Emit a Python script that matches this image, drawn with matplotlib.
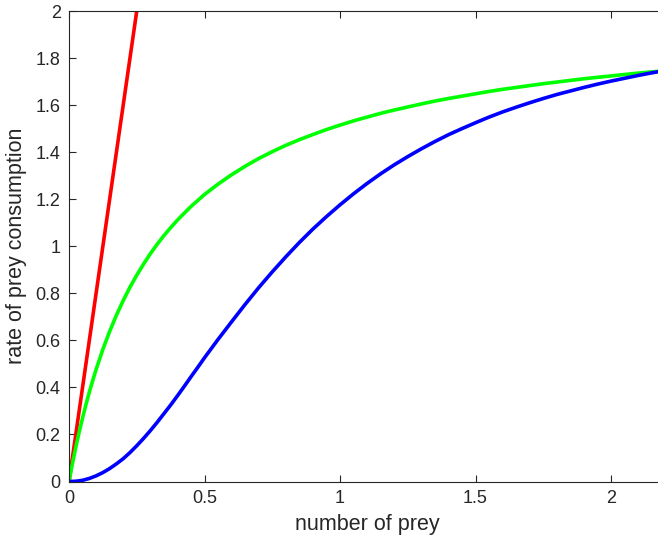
import matplotlib
matplotlib.use("Agg")
import matplotlib.pyplot as plt
from matplotlib.ticker import FuncFormatter

plt.rcParams['font.family'] = ['Liberation Sans', 'DejaVu Sans']

# Type I (linear)
x_red = [0.0, 0.25]
y_red = [0.0, 2.0]

# Type II
x_green = [0, 0.0125, 0.025, 0.0375, 0.05, 0.0625, 0.075, 0.0875, 0.1, 0.125, 0.15, 0.175,
           0.2, 0.225, 0.25, 0.275, 0.3, 0.325, 0.35, 0.375, 0.4, 0.45, 0.5, 0.55, 0.6, 0.65,
           0.7, 0.75, 0.8, 0.85, 0.9, 0.95, 1.0, 1.05, 1.1, 1.15, 1.2, 1.25, 1.3, 1.35, 1.4,
           1.45, 1.5, 1.55, 1.6, 1.65, 1.7, 1.75, 1.8, 1.85, 1.9, 1.95, 2.0, 2.05, 2.1, 2.15, 2.2]
y_green = [0, 0.075, 0.145, 0.210, 0.270, 0.327, 0.380, 0.429, 0.476, 0.562, 0.638, 0.707,
           0.769, 0.826, 0.877, 0.924, 0.968, 1.008, 1.045, 1.079, 1.111, 1.169, 1.220, 1.264,
           1.304, 1.340, 1.373, 1.402, 1.429, 1.453, 1.475, 1.496, 1.515, 1.533, 1.549, 1.565,
           1.579, 1.592, 1.605, 1.617, 1.628, 1.638, 1.648, 1.658, 1.667, 1.675, 1.683, 1.691,
           1.698, 1.705, 1.712, 1.718, 1.724, 1.730, 1.736, 1.741, 1.746]

# Type III
x_blue = [0, 0.025, 0.05, 0.075, 0.1, 0.125, 0.15, 0.175, 0.2, 0.225, 0.25, 0.275, 0.3, 0.325,
          0.35, 0.375, 0.4, 0.425, 0.45, 0.475, 0.5, 0.55, 0.6, 0.65, 0.7, 0.75, 0.8, 0.85,
          0.9, 0.95, 1.0, 1.05, 1.1, 1.15, 1.2, 1.25, 1.3, 1.35, 1.4, 1.45, 1.5, 1.55, 1.6,
          1.65, 1.7, 1.75, 1.8, 1.85, 1.9, 1.95, 2.0, 2.05, 2.1, 2.15, 2.2]
y_blue = [0, 0.001, 0.005, 0.013, 0.024, 0.038, 0.055, 0.075, 0.097, 0.123, 0.152, 0.183,
          0.216, 0.251, 0.288, 0.325, 0.364, 0.404, 0.445, 0.485, 0.526, 0.604, 0.679, 0.753,
          0.824, 0.891, 0.955, 1.016, 1.073, 1.126, 1.176, 1.223, 1.267, 1.308, 1.346, 1.381,
          1.414, 1.445, 1.474, 1.500, 1.525, 1.549, 1.571, 1.591, 1.610, 1.628, 1.645, 1.660,
          1.675, 1.689, 1.702, 1.714, 1.726, 1.737, 1.747]

x_ticks = [0, 0.5, 1, 1.5, 2]
y_ticks = [0, 0.2, 0.4, 0.6, 0.8, 1.0, 1.2, 1.4, 1.6, 1.8, 2.0]

fig = plt.figure(figsize=(6.58, 5.42), dpi=100)
ax = fig.add_axes([69/658, 60.5/542, 2.2*271/658, 470.5/542])

ax.plot(x_red, y_red, color='#ff0000', lw=2.6, solid_capstyle='butt')
ax.plot(x_green, y_green, color='#00ff00', lw=2.6, solid_joinstyle='round')
ax.plot(x_blue, y_blue, color='#0000ff', lw=2.6, solid_joinstyle='round')

ax.set_xlim(0, 2.2)
ax.set_ylim(0, 2)
ax.set_xticks(x_ticks)
ax.set_yticks(y_ticks)
fmt = FuncFormatter(lambda v, p: '%g' % round(v, 3))
ax.xaxis.set_major_formatter(fmt)
ax.yaxis.set_major_formatter(fmt)
ax.tick_params(direction='in', top=True, right=False, length=5, width=0.8,
               colors='#262626', labelsize=13, pad=6)
for s in ax.spines.values():
    s.set_color('#262626')
    s.set_linewidth(0.8)
ax.spines['right'].set_visible(False)

ax.set_xlabel('number of prey', fontsize=15.5, color='#262626', labelpad=5)
ax.set_ylabel('rate of prey consumption', fontsize=15.5, color='#262626', labelpad=6)

fig.savefig('out.png', dpi=100)
